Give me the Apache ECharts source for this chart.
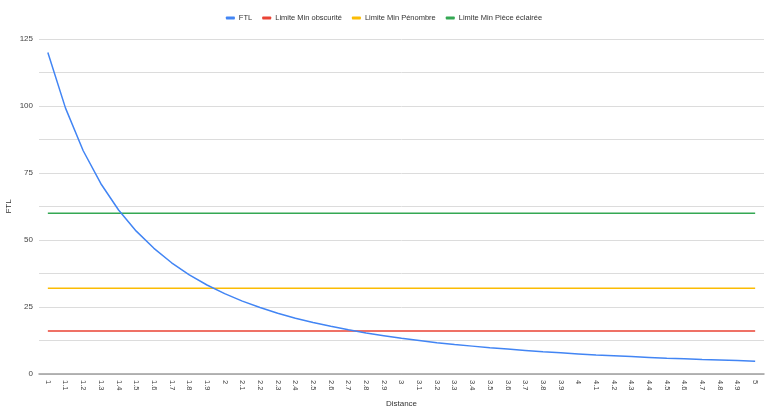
<!DOCTYPE html>
<html>
<head>
<meta charset="utf-8">
<script src="https://cdn.jsdelivr.net/npm/echarts@6/dist/echarts.min.js"></script>
<style>
  html, body { margin: 0; padding: 0; background: #fff; }
  #chart { width: 768px; height: 410px; }
</style>
</head>
<body>
<div id="chart"></div>
<script>
// Distance steps (x axis categories)
const distances = ['1','1.1','1.2','1.3','1.4','1.5','1.6','1.7','1.8','1.9','2','2.1','2.2','2.3','2.4','2.5','2.6','2.7','2.8','2.9','3','3.1','3.2','3.3','3.4','3.5','3.6','3.7','3.8','3.9','4','4.1','4.2','4.3','4.4','4.5','4.6','4.7','4.8','4.9','5'];

// Measured light level at each distance
const ftl = [120, 99.2, 83.3, 71, 61.2, 53.3, 46.9, 41.5, 37, 33.2, 30, 27.2, 24.8, 22.7, 20.8, 19.2, 17.8, 16.5, 15.3, 14.3, 13.3, 12.5, 11.7, 11, 10.4, 9.8, 9.3, 8.8, 8.3, 7.9, 7.5, 7.1, 6.8, 6.5, 6.2, 5.9, 5.7, 5.4, 5.2, 5, 4.8];

// Threshold levels
const limitObscurite = 16;
const limitPenombre = 32;
const limitPieceEclairee = 60;

const seriesNames = ['FTL', 'Limite Min obscurité', 'Limite Min Pénombre', 'Limite Min Pièce éclairée'];
const seriesColors = ['#4285f4', '#ea4335', '#fbbc04', '#34a853'];

const flat = v => distances.map(() => v);
const seriesData = [ftl, flat(limitObscurite), flat(limitPenombre), flat(limitPieceEclairee)];

const font = 'Liberation Sans, Arial, sans-serif';
const chart = echarts.init(document.getElementById('chart'), null, { renderer: 'canvas' });

chart.setOption({
  animation: false,
  textStyle: { fontFamily: font },
  legend: {
    top: 9,
    left: 'center',
    itemWidth: 9,
    itemHeight: 3,
    itemGap: 10,
    icon: 'roundRect',
    textStyle: { fontSize: 7.5, color: '#333', fontFamily: font, padding: [0, 0, 0, -1] },
    data: seriesNames
  },
  grid: { left: 39, right: 4, top: 39, bottom: 36, outerBoundsMode: 'none', containLabel: false },
  xAxis: {
    type: 'category',
    data: distances,
    boundaryGap: true,
    name: 'Distance',
    nameLocation: 'middle',
    nameGap: 26,
    nameMoveOverlap: false,
    nameTextStyle: { fontSize: 8, color: '#333', fontFamily: font },
    axisLine: { show: true, lineStyle: { color: '#9e9e9e', width: 1.5 } },
    axisTick: { show: false },
    axisLabel: {
      interval: 0,
      rotate: -90,
      fontSize: 7.5,
      color: '#444',
      margin: 6,
      fontFamily: font
    },
    splitLine: { show: false }
  },
  yAxis: {
    type: 'value',
    min: 0,
    max: 125,
    interval: 12.5,
    name: 'FTL',
    nameLocation: 'middle',
    nameGap: 26,
    nameMoveOverlap: false,
    nameTextStyle: { fontSize: 8, color: '#333', fontFamily: font },
    axisLine: { show: false },
    axisTick: { show: false },
    axisLabel: {
      fontSize: 8,
      color: '#444',
      margin: 6,
      fontFamily: font,
      formatter: v => (v % 25 === 0 ? String(v) : '')
    },
    splitLine: { lineStyle: { color: '#dcdcdc', width: 1 } }
  },
  series: seriesNames.map((name, i) => ({
    name,
    type: 'line',
    data: seriesData[i],
    symbol: 'none',
    smooth: false,
    lineStyle: { color: seriesColors[i], width: 1.5 },
    itemStyle: { color: seriesColors[i] },
    z: i === 0 ? 5 : 3
  }))
});
</script>
</body>
</html>
